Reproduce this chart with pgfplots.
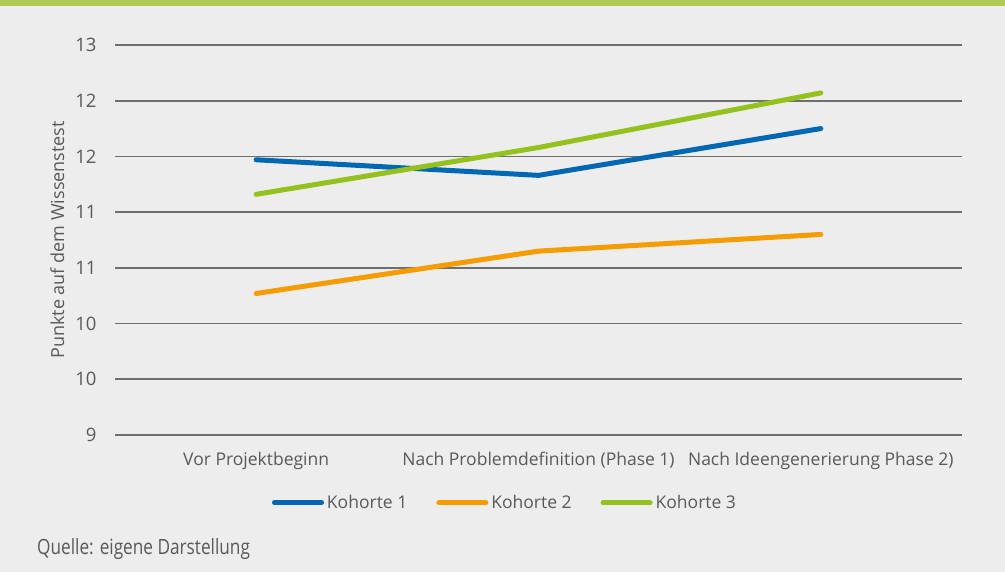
\documentclass[border=0pt]{standalone}
\usepackage{pgfplots}
\pgfplotsset{compat=1.18}
\usepackage{fontspec}
\setmainfont{Open Sans}
\newfontfamily\condfont[FakeStretch=0.82]{Open Sans}
\definecolor{bg}{HTML}{EDEDED}
\definecolor{topbar}{HTML}{AFCB55}
\definecolor{kblue}{HTML}{0068B3}
\definecolor{korange}{HTML}{F59C00}
\definecolor{kgreen}{HTML}{95C11F}
\definecolor{gridc}{HTML}{6E6E6E}
\definecolor{txt}{HTML}{595959}
\begin{document}
\begin{tikzpicture}[x=1pt,y=1pt]
\fill[bg] (0,0) rectangle (1005,572);
\fill[topbar] (0,566) rectangle (1005,572);
\begin{axis}[
  at={(115pt,137pt)}, anchor=south west,
  scale only axis, width=847pt, height=390pt,
  xmin=-0.5, xmax=2.5, ymin=9, ymax=12.5,
  axis line style={draw=none},
  ytick={9,9.5,...,12.5},
  yticklabels={9,10,10,11,11,12,12,13},
  ymajorgrids, grid style={gridc, line width=1.6pt},
  major tick length=0pt,
  xtick={0,1,2},
  xticklabels={Vor Projektbeginn, Nach Problemdefinition (Phase 1), Nach Ideengenerierung Phase 2)},
  xticklabel style={font=\fontsize{17.5}{20}\selectfont, text=txt, yshift=-14pt},
  yticklabel style={font=\fontsize{18.5}{20}\selectfont, text=txt, xshift=-15pt},
  ylabel={Punkte auf dem Wissenstest},
  ylabel style={font=\fontsize{18}{20}\selectfont, text=txt, at={(axis description cs:-0.068,0.5)}, anchor=center},
  /pgf/number format/assume math mode=true,
  legend columns=3,
  legend style={at={(rel axis cs:0.461,-0.174)}, anchor=center, draw=none, fill=none,
    font=\fontsize{17.5}{20}\selectfont, text=txt, inner xsep=0pt,
    /tikz/every even column/.append style={column sep=26pt},
    nodes={inner xsep=3pt}},
  legend image code/.code={\draw[#1, line width=5pt, line cap=round] (0pt,0pt) -- (47pt,0pt);},
  every axis plot/.append style={line width=5pt, line cap=round, line join=round, no markers},
  clip=false,
]
\addplot[kblue] coordinates {(0,11.47) (1,11.33) (2,11.75)};
\addlegendentry{Kohorte 1}
\addplot[korange] coordinates {(0,10.27) (1,10.65) (2,10.80)};
\addlegendentry{Kohorte 2}
\addplot[kgreen] coordinates {(0,11.16) (1,11.58) (2,12.07)};
\addlegendentry{Kohorte 3}
\end{axis}
\node[anchor=west, text=txt, font=\condfont\fontsize{21}{22}\selectfont, inner sep=0pt] at (37,23) {Quelle: eigene Darstellung};
\end{tikzpicture}
\end{document}
